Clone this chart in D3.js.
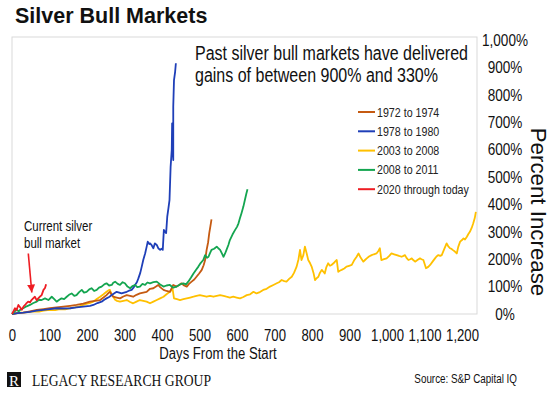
<!DOCTYPE html>
<html>
<head>
<meta charset="utf-8">
<script src="https://cdn.jsdelivr.net/npm/d3@7"></script>
<style>
  body { margin: 0; background: #fff; }
  svg { display: block; font-family: "Liberation Sans", Arial, sans-serif; }
</style>
</head>
<body>
<script>
// days from the start vs percent increase
const s1972 = [[0,0],[15,3],[30,5],[48,10],[66,15],[84,18],[101,21],[119,24],[137,27],[155,30],[172,33],[190,38],[208,45],[222,48],[235,51],[244,60],[252,69],[257,76],[261,81],[266,70],[270,63],[279,60],[288,57],[297,64],[306,69],[315,66],[323,63],[332,70],[341,75],[350,78],[359,81],[368,92],[377,94],[384,100],[390,106],[395,98],[404,88],[412,84],[421,81],[430,106],[439,100],[446,106],[452,112],[459,104],[466,100],[472,110],[479,118],[486,126],[492,136],[499,148],[506,161],[511,178],[515,197],[519,234],[523,262],[526,295],[529,320],[532,345]];

const s1978 = [[0,0],[15,3],[30,5],[48,8],[66,12],[84,15],[101,18],[119,21],[137,20],[155,21],[172,24],[190,27],[208,30],[217,33],[228,40],[239,45],[246,52],[252,57],[259,62],[266,69],[272,75],[279,81],[286,78],[292,75],[299,78],[306,81],[312,85],[319,88],[324,96],[328,106],[333,116],[337,130],[342,150],[346,173],[350,197],[355,221],[359,245],[362,264],[366,255],[368,258],[372,252],[377,240],[381,258],[386,252],[390,240],[395,234],[398,238],[402,234],[405,307],[408,300],[411,295],[414,355],[417,385],[420,416],[423,538],[426,599],[427,696],[428,635],[430,562],[430,757],[432,854],[435,884],[437,915]];

const s2003 = [[0,0],[12,3],[24,5],[36,6],[48,8],[60,10],[72,9],[84,12],[101,15],[115,14],[128,18],[142,17],[155,21],[168,24],[180,28],[190,33],[200,38],[208,40],[217,45],[226,55],[235,63],[244,72],[252,81],[257,86],[261,88],[266,70],[270,63],[275,52],[280,48],[288,45],[297,48],[306,51],[315,44],[323,39],[332,45],[341,51],[350,48],[359,45],[368,39],[377,45],[386,51],[395,57],[404,63],[412,72],[421,81],[426,88],[428,94],[430,75],[432,57],[440,54],[448,51],[457,54],[466,57],[475,60],[484,63],[492,66],[501,69],[510,66],[519,63],[528,66],[537,63],[546,66],[555,69],[564,66],[572,63],[581,60],[590,63],[599,60],[608,57],[617,62],[626,69],[635,72],[644,81],[652,75],[661,80],[670,88],[679,92],[688,100],[697,106],[706,112],[712,116],[719,124],[726,120],[732,118],[739,128],[746,136],[752,150],[759,173],[764,200],[768,234],[772,197],[777,215],[781,246],[786,220],[790,197],[795,185],[799,173],[804,150],[808,124],[812,130],[817,136],[821,150],[826,161],[830,155],[834,148],[838,170],[843,185],[848,176],[852,179],[858,186],[862,192],[866,197],[870,154],[874,158],[879,161],[886,166],[892,173],[899,176],[906,179],[912,195],[919,209],[924,221],[930,205],[937,191],[942,198],[946,203],[952,210],[959,215],[965,218],[972,221],[977,230],[981,240],[985,197],[992,200],[999,203],[1006,212],[1012,221],[1019,218],[1026,215],[1032,212],[1039,209],[1044,212],[1048,215],[1052,205],[1057,197],[1062,200],[1066,203],[1070,197],[1075,191],[1082,198],[1088,203],[1092,200],[1097,197],[1104,167],[1110,172],[1115,179],[1122,192],[1128,203],[1132,210],[1137,215],[1142,212],[1146,215],[1152,235],[1159,258],[1163,248],[1168,240],[1172,238],[1175,234],[1181,228],[1186,221],[1190,245],[1195,264],[1200,270],[1204,276],[1208,272],[1213,282],[1217,292],[1221,300],[1226,315],[1230,331],[1234,350],[1237,373]];

const s2008 = [[0,0],[6,8],[12,15],[18,10],[24,18],[30,21],[39,28],[48,33],[57,40],[66,45],[72,52],[79,51],[88,57],[97,51],[106,63],[112,55],[119,45],[126,52],[132,57],[139,54],[146,63],[152,70],[159,75],[166,66],[172,69],[179,80],[186,88],[192,78],[199,81],[206,90],[212,94],[219,84],[226,88],[232,96],[239,100],[246,108],[252,112],[259,104],[266,106],[270,114],[275,118],[282,110],[288,106],[295,116],[301,112],[308,100],[315,94],[321,102],[328,106],[334,98],[341,100],[348,110],[355,106],[361,115],[368,112],[377,116],[386,118],[395,108],[404,100],[412,104],[421,106],[430,96],[439,100],[448,108],[457,112],[464,108],[470,118],[477,132],[484,148],[490,160],[497,173],[503,186],[510,197],[515,215],[520,205],[524,209],[528,222],[532,234],[539,238],[546,246],[550,240],[555,234],[560,220],[564,209],[568,220],[572,234],[577,252],[581,270],[588,290],[595,307],[600,318],[604,331],[608,350],[612,368],[617,392],[621,416],[625,440],[628,455]];

const s2020 = [[0,0],[4,10],[8,21],[12,14],[17,33],[22,24],[26,15],[31,28],[35,33],[39,40],[43,45],[48,42],[52,51],[57,58],[61,63],[66,50],[70,57],[75,64],[79,69],[84,88],[88,95],[91,109]];

const seriesNames = ["1972 to 1974", "1978 to 1980", "2003 to 2008", "2008 to 2011", "2020 through today"];
const seriesData = [s1972, s1978, s2003, s2008, s2020];
const colors = ["#c55a11", "#1f3fb8", "#ffc000", "#14a550", "#ee1d23"];

const xTicks = [0, 100, 200, 300, 400, 500, 600, 700, 800, 900, 1000, 1100, 1200];
const yTicks = [0, 100, 200, 300, 400, 500, 600, 700, 800, 900, 1000];

const width = 560, height = 395;
const plot = { left: 12, right: 477, top: 37, bottom: 314 };

// no narrow font installed, so squeeze regular Arial-metric text sideways
function squeeze(sel, k = 0.82) {
    sel.each(function () {
        const w = this.getComputedTextLength();
        d3.select(this).attr("textLength", w * k).attr("lengthAdjust", "spacingAndGlyphs");
    });
}

const svg = d3.select("body").append("svg")
    .attr("width", width)
    .attr("height", height);

svg.append("rect").attr("width", width).attr("height", height).attr("fill", "#fff");

const x = d3.scaleLinear().domain([0, 1240]).range([plot.left, plot.right]);
const y = d3.scaleLinear().domain([0, 1000]).range([plot.bottom, 40]);

// plot frame
svg.append("rect")
    .attr("x", plot.left).attr("y", plot.top)
    .attr("width", plot.right - plot.left).attr("height", plot.bottom - plot.top)
    .attr("fill", "none").attr("stroke", "#d9d9d9").attr("stroke-width", 1);

// axes
const xAxis = svg.append("g")
    .attr("transform", `translate(0,${plot.bottom})`)
    .call(d3.axisBottom(x).tickValues(xTicks).tickSize(0).tickPadding(15.5).tickFormat(d3.format(",")));
xAxis.select(".domain").remove();
xAxis.selectAll("text").attr("font-size", 16).attr("font-family", "Liberation Sans, Arial, sans-serif").attr("fill", "#111").call(squeeze);

const yAxis = svg.append("g")
    .attr("transform", `translate(${plot.right},0)`)
    .call(d3.axisRight(y).tickValues(yTicks).tickSize(0).tickPadding(28).tickFormat(d => d3.format(",")(d) + "%"));
yAxis.select(".domain").remove();
yAxis.selectAll("text").attr("font-size", 16.5).attr("font-family", "Liberation Sans, Arial, sans-serif").attr("fill", "#111").attr("text-anchor", "middle").call(squeeze);

svg.append("text")
    .attr("transform", "translate(531,212) rotate(90)")
    .attr("text-anchor", "middle")
    .attr("font-size", 22.3)
    .attr("fill", "#111")
    .text("Percent Increase");

svg.append("text")
    .attr("x", 218).attr("y", 359)
    .attr("text-anchor", "middle")
    .attr("font-size", 16)
    .attr("fill", "#111")
    .text("Days From the Start")
    .call(squeeze);

// lines
const line = d3.line().x(d => x(d[0])).y(d => y(d[1]));
const order = [2, 0, 1, 3, 4];
svg.append("g").selectAll("path")
    .data(order)
    .join("path")
    .attr("d", i => line(seriesData[i]))
    .attr("fill", "none")
    .attr("stroke", i => colors[i])
    .attr("stroke-width", 1.8)
    .attr("stroke-linejoin", "round");

// legend
const legend = svg.append("g");
seriesNames.forEach((name, i) => {
    const ly = 112 + i * 19.3;
    legend.append("line")
        .attr("x1", 358).attr("x2", 375).attr("y1", ly).attr("y2", ly)
        .attr("stroke", colors[i]).attr("stroke-width", 2);
    legend.append("text")
        .attr("x", 377).attr("y", ly + 4.5)
        .attr("font-size", 13)
        .attr("fill", "#222")
        .text(name)
        .call(squeeze);
});

// title and notes
svg.append("text")
    .attr("x", 15).attr("y", 23)
    .attr("font-weight", "bold")
    .attr("font-size", 21.5)
    .attr("fill", "#111")
    .text("Silver Bull Markets");

const note = svg.append("g").attr("font-size", 20).attr("fill", "#111");
note.append("text").attr("x", 195).attr("y", 60)
    .attr("textLength", 273).attr("lengthAdjust", "spacingAndGlyphs")
    .text("Past silver bull markets have delivered");
note.append("text").attr("x", 195).attr("y", 82)
    .attr("textLength", 243).attr("lengthAdjust", "spacingAndGlyphs")
    .text("gains of between 900% and 330%");

const current = svg.append("g").attr("font-size", 14).attr("fill", "#111");
current.append("text").attr("x", 24).attr("y", 231).text("Current silver").call(squeeze);
current.append("text").attr("x", 24).attr("y", 247.5).text("bull market").call(squeeze);

svg.append("defs").append("marker")
    .attr("id", "arrow")
    .attr("viewBox", "0 0 10 10")
    .attr("refX", 10).attr("refY", 5)
    .attr("markerUnits", "userSpaceOnUse")
    .attr("markerWidth", 8).attr("markerHeight", 8)
    .attr("orient", "auto")
    .append("path").attr("d", "M0,0 L10,5 L0,10 Z").attr("fill", "#ee1d23");

svg.append("line")
    .attr("x1", 28.3).attr("y1", 253.5)
    .attr("x2", 31.8).attr("y2", 292.5)
    .attr("stroke", "#ee1d23").attr("stroke-width", 1.6)
    .attr("marker-end", "url(#arrow)");

// footer
svg.append("rect").attr("x", 7).attr("y", 372).attr("width", 14).attr("height", 15).attr("fill", "#111");
svg.append("text")
    .attr("x", 14).attr("y", 385.5)
    .attr("text-anchor", "middle")
    .attr("font-family", "Liberation Serif, Times New Roman, serif")
    .attr("font-size", 15)
    .attr("fill", "#fff")
    .text("R");
svg.append("text")
    .attr("x", 32).attr("y", 386)
    .attr("font-family", "Liberation Serif, Times New Roman, serif")
    .attr("font-size", 16)
    .attr("textLength", 179).attr("lengthAdjust", "spacingAndGlyphs")
    .attr("fill", "#111")
    .text("LEGACY RESEARCH GROUP");

svg.append("text")
    .attr("x", 517).attr("y", 383)
    .attr("text-anchor", "end")
    .attr("font-size", 12)
    .attr("fill", "#111")
    .text("Source: S&P Capital IQ")
    .call(squeeze);
</script>
</body>
</html>
